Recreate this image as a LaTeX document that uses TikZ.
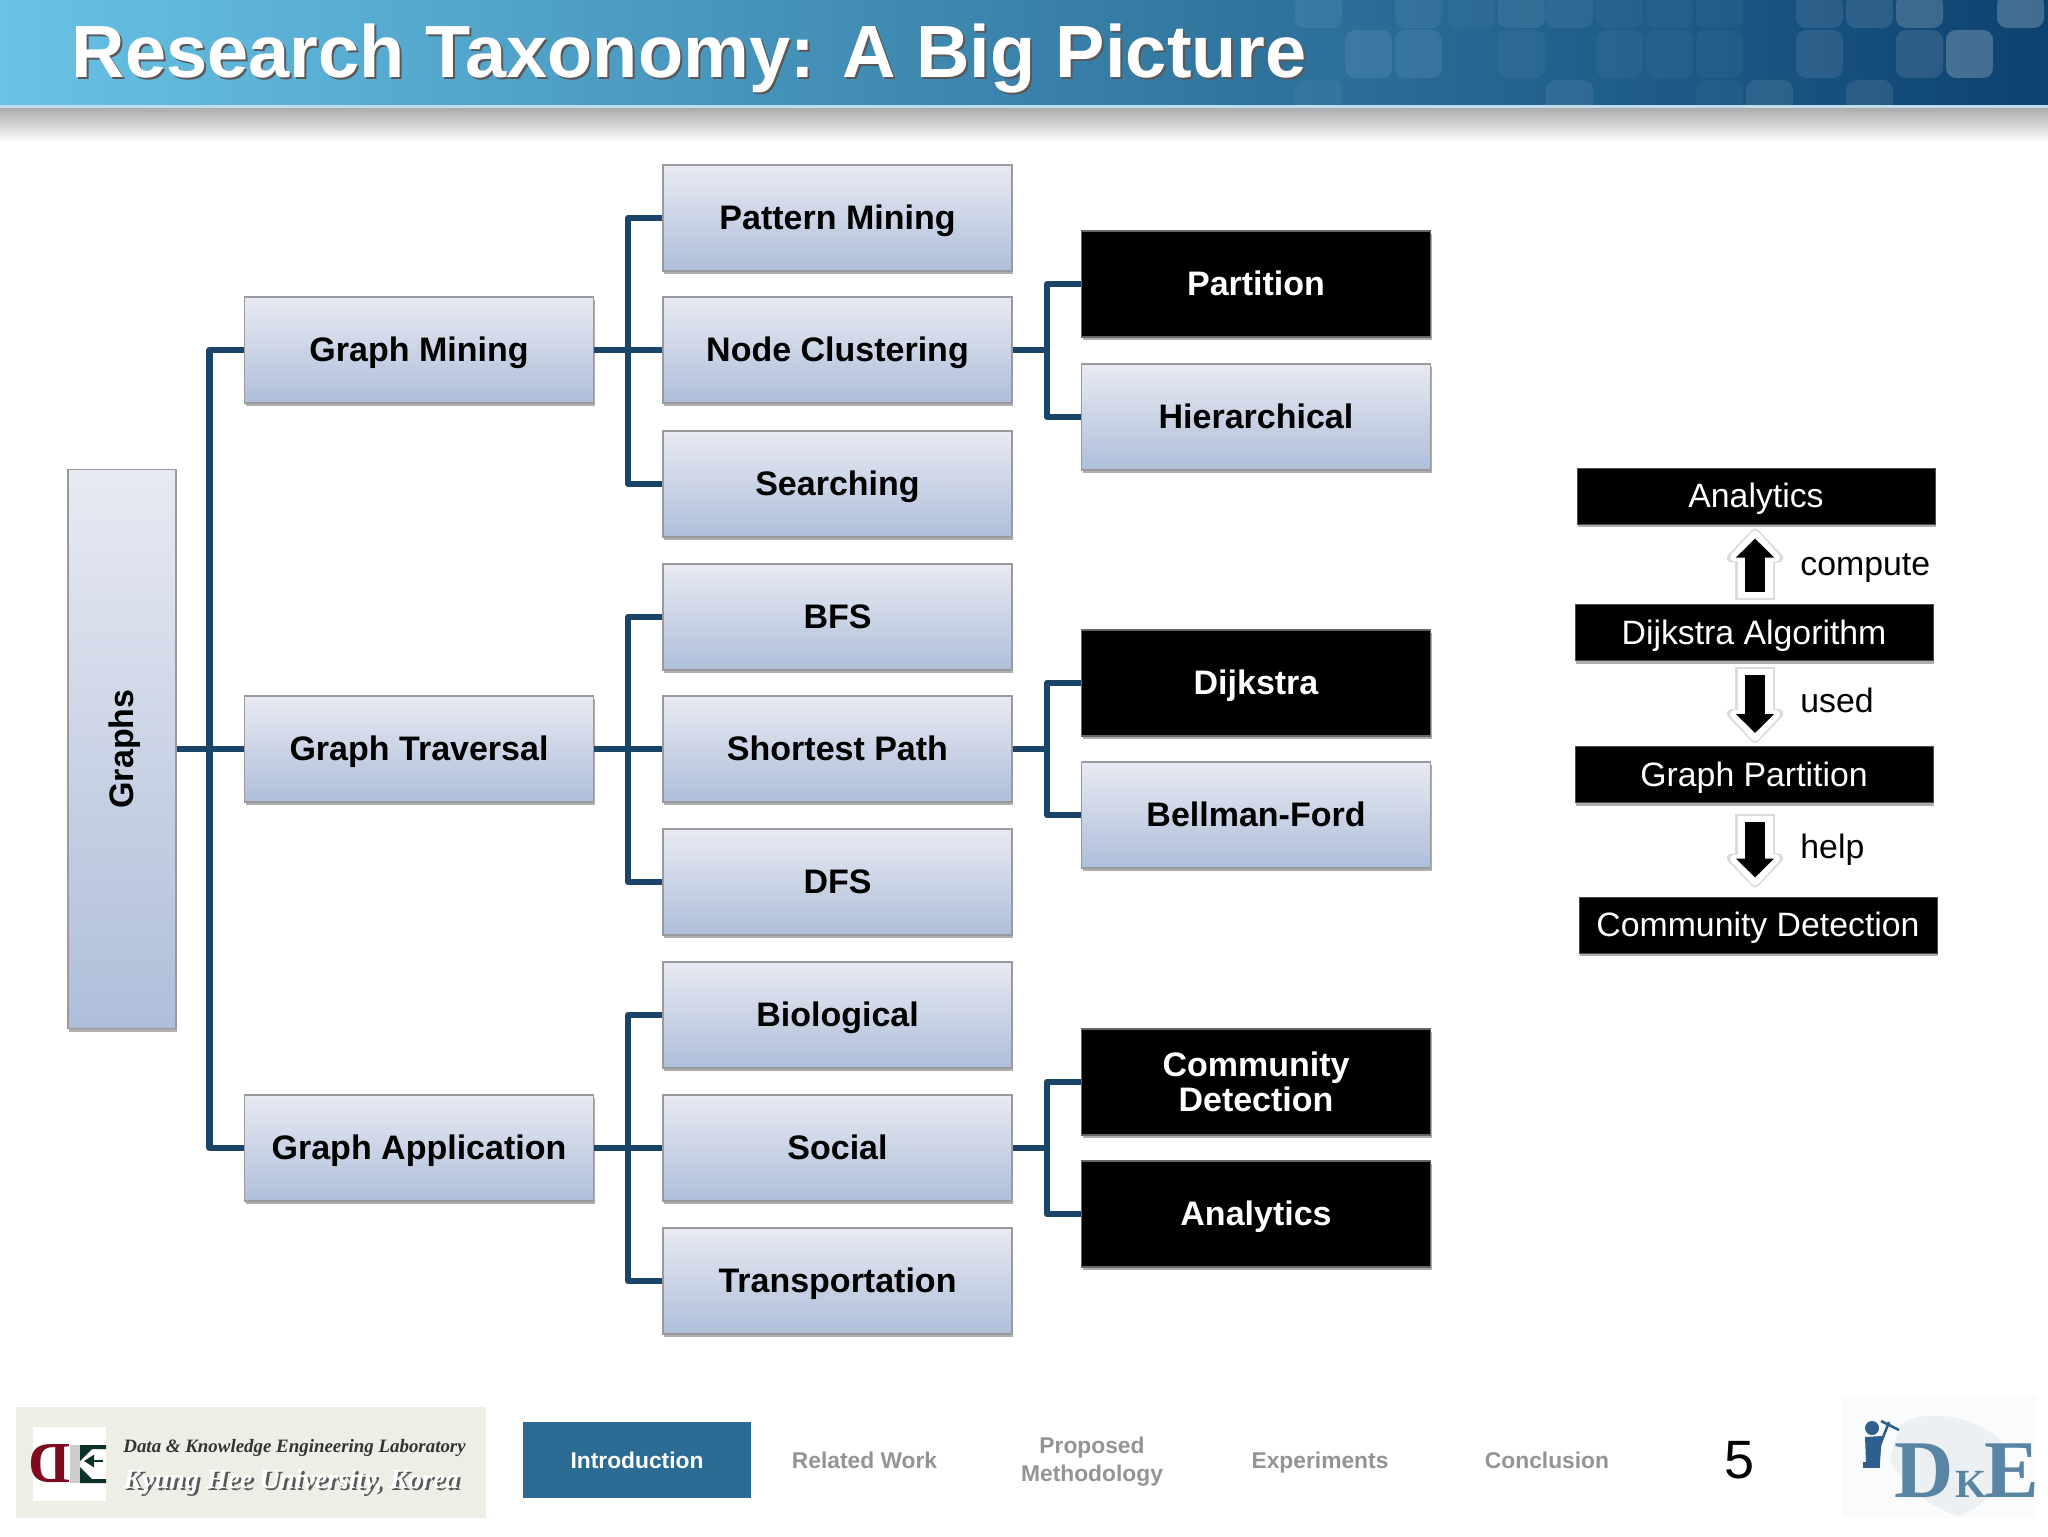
\documentclass[tikz,border=0pt]{standalone}
\usepackage{fontspec}
\setmainfont{Liberation Sans}
\newfontfamily\logoserif{Liberation Serif}
\usetikzlibrary{shadows,arrows.meta,calc}
\definecolor{linkblue}{HTML}{1A4568}
\definecolor{boxtop}{HTML}{E8EAF2}
\definecolor{boxbot}{HTML}{AEBEDA}
\definecolor{boxedge}{HTML}{9A9A9E}
\definecolor{navblue}{HTML}{2C6C94}
\definecolor{navgrey}{HTML}{949494}
\definecolor{dkeblue}{HTML}{5A84A4}
\definecolor{manblue}{HTML}{2E5F8E}
\definecolor{banA}{RGB}{104,195,230}
\definecolor{banB}{RGB}{60,135,176}
\definecolor{banC}{RGB}{12,66,112}
\definecolor{banline}{RGB}{190,222,235}
\definecolor{logobg}{RGB}{238,237,230}
\definecolor{logored}{RGB}{125,10,30}
\definecolor{logogreen}{RGB}{10,50,40}
\definecolor{dkebg}{RGB}{250,251,252}
\definecolor{dkeblob}{RGB}{236,240,242}
\tikzset{
  softshadow/.style={drop shadow={shadow xshift=0.5pt,shadow yshift=-1.6pt,opacity=.45,fill=black!70}},
  oneline/.style={text height=13pt,text depth=1.5pt},
  navline/.style={text height=9pt,text depth=1pt},
  evenline/.style={execute at begin node={\vphantom{Ag}}},
  base/.style={rectangle,inner sep=2pt,align=center,line width=.8pt,softshadow,
    font=\fontsize{17}{17.7}\selectfont\bfseries},
  gbase/.style={base,draw=boxedge,top color=boxtop,bottom color=boxbot,text=black,minimum width=174.5pt,minimum height=53pt},
  kbase/.style={base,draw=black!60,fill=black,text=white,minimum width=174.5pt,minimum height=53pt},
  gbox/.style={gbase,oneline},
  kbox/.style={kbase,oneline},
  pbox/.style={rectangle,fill=black,text=white,draw=black!70,line width=.5pt,softshadow,oneline,minimum width=179pt,minimum height=28pt,inner sep=0pt,
    font=\fontsize{16.9}{20}\selectfont},
  plabel/.style={anchor=west,inner sep=0pt,text=black,evenline,font=\fontsize{16.9}{20}\selectfont},
  link/.style={draw=linkblue,line width=3.1pt,line cap=butt,line join=round},
  navtext/.style={align=center,inner sep=0pt,font=\fontsize{11.4}{14}\selectfont\bfseries,text=navgrey},
  tile/.style={fill=white,rounded corners=5pt},
}
\newcommand{\btile}[4]{\fill[tile,opacity=#4] (#1,#2) rectangle ++(47,#3);}
% block arrow drawn from node to node: from, to, gap at start, gap at end (in pt)
\newcommand{\blockarrow}[4]{%
  \draw[black!14,line width=20pt,-{Triangle[round,width=33pt,length=18pt]},shorten <=#3-4.2pt,shorten >=#4-5pt]
    (#1 -| ax) -- (#2 -| ax);
  \draw[white,line width=17.5pt,-{Triangle[round,width=29pt,length=16.5pt]},shorten <=#3-3.2pt,shorten >=#4-4pt]
    (#1 -| ax) -- (#2 -| ax);
  \draw[black,line width=10pt,-{Triangle[width=18.5pt,length=9.5pt]},shorten <=#3,shorten >=#4]
    (#1 -| ax) -- (#2 -| ax);
}
\begin{document}
\begin{tikzpicture}[x=0.5pt,y=-0.5pt]
\useasboundingbox (0,0) rectangle (2048,1536);
\fill[white] (0,0) rectangle (2048,1536);

% ---- banner
\shade[left color=banA,middle color=banB,right color=banC] (0,0) rectangle (2048,105);
\foreach \cx/\op in {1295/.06,1395/.06,1448/.035,1498/.07,1546/.06,1596/.035,1646/.035,1696/.035,1796/.09,1846/.11,1896/.18,1997/.22}
  {\btile{\cx}{-6}{34}{\op}}
\foreach \cx/\op in {1345/.08,1395/.08,1498/.04,1596/.04,1646/.04,1696/.04,1796/.09,1896/.11,1946/.22}
  {\btile{\cx}{30}{48}{\op}}
\foreach \cx/\op in {1295/.04,1546/.07,1696/.035,1746/.09,1846/.09}
  {\begin{scope}\clip (0,0) rectangle (2048,105);\btile{\cx}{80}{40}{\op}\end{scope}}
\fill[banline] (0,105) rectangle (2048,108.5);
\shade[top color=black!32,bottom color=white] (0,108.5) rectangle (2048,142);
\node[anchor=base west,inner sep=0pt,text=black!65,font=\fontsize{37}{40}\selectfont\bfseries] (titleshadow) at (73.5,80) {Research Taxonomy: A Big Picture};
\node[anchor=base west,inner sep=0pt,text=white,font=\fontsize{37}{40}\selectfont\bfseries] (title) at (71.5,78) {Research Taxonomy: A Big Picture};

% ---- connectors' junction points
\coordinate (rootbus) at (209.5,749);
\coordinate (busa) at (628,350);
\coordinate (busb) at (628,749);
\coordinate (busc) at (628,1148);
\coordinate (busd) at (1047,350);
\coordinate (buse) at (1047,749);
\coordinate (busf) at (1047,1148);

% ---- tree nodes
\node[gbase,minimum width=54pt,minimum height=279.5pt] (graphs) at (122,749) {\hspace*{2.4pt}\rotatebox{90}{Graphs}};
\node[gbox] (mining) at (419,350) {Graph Mining};
\node[gbox] (traversal) at (419,749) {Graph Traversal};
\node[gbox] (application) at (419,1148) {Graph Application};

\node[gbox] (pattern) at (837.5,218) {Pattern Mining};
\node[gbox] (clustering) at (837.5,350) {Node Clustering};
\node[gbox] (searching) at (837.5,484) {Searching};
\node[gbox] (bfs) at (837.5,617) {BFS};
\node[gbox] (shortest) at (837.5,749) {Shortest Path};
\node[gbox] (dfs) at (837.5,882) {DFS};
\node[gbox] (bio) at (837.5,1015) {Biological};
\node[gbox] (social) at (837.5,1148) {Social};
\node[gbox] (transport) at (837.5,1281) {Transportation};

\node[kbox] (partition) at (1256,284) {Partition};
\node[gbox] (hierarchical) at (1256,417) {Hierarchical};
\node[kbox] (dijkstra) at (1256,683) {Dijkstra};
\node[gbox] (bellman) at (1256,815) {Bellman-Ford};
\node[kbase] (community) at (1256,1082) {Community\\Detection};
\node[kbox] (analytics) at (1256,1214) {Analytics};

% ---- connectors
\draw[link] (graphs.east) -- (traversal.west);
\draw[link] (mining.west) -| (rootbus) |- (application.west);
\draw[link] (mining.east) -- (clustering.west);
\draw[link] (pattern.west) -| (busa) |- (searching.west);
\draw[link] (traversal.east) -- (shortest.west);
\draw[link] (bfs.west) -| (busb) |- (dfs.west);
\draw[link] (application.east) -- (social.west);
\draw[link] (bio.west) -| (busc) |- (transport.west);
\draw[link] (clustering.east) -- (busd);
\draw[link] (partition.west) -| (busd) |- (hierarchical.west);
\draw[link] (shortest.east) -- (buse);
\draw[link] (dijkstra.west) -| (buse) |- (bellman.west);
\draw[link] (social.east) -- (busf);
\draw[link] (community.west) -| (busf) |- (analytics.west);

% ---- right panel
\coordinate (ax) at (1755,0);
\node[pbox] (panalytics) at (1756,496) {Analytics};
\node[pbox] (pdijkstra) at (1754,632.5) {Dijkstra Algorithm};
\node[pbox] (ppartition) at (1754,774.5) {Graph Partition};
\node[pbox] (pcommunity) at (1758,925) {Community Detection};
\blockarrow{pdijkstra.north}{panalytics.south}{6pt}{7pt}
\blockarrow{pdijkstra.south}{ppartition.north}{7pt}{6.5pt}
\blockarrow{ppartition.south}{pcommunity.north}{9.5pt}{9.5pt}
\node[plabel] (lcompute) at (1800,567.5) {compute};
\node[plabel] (lused) at (1800,703.5) {used};
\node[plabel] (lhelp) at (1800,849.5) {help};

% ---- footer navigation
\node[rectangle,fill=navblue,text=white,minimum width=114pt,minimum height=38pt,inner sep=0pt,navline,font=\fontsize{11.4}{13.5}\selectfont\bfseries] (navintro) at (637,1460) {Introduction};
\node[navtext,navline] (navrelated) at (864.5,1460) {Related Work};
\node[navtext] (navproposed) at (1092,1462) {Proposed\\Methodology};
\node[navtext,navline] (navexp) at (1320,1460) {Experiments};
\node[navtext,navline] (navconc) at (1547,1460) {Conclusion};
\node[inner sep=0pt,text=black,font=\fontsize{27}{30}\selectfont] (pageno) at (1739,1460) {5};

% ---- left logo
\fill[logobg] (16,1407) rectangle (486,1518);
\fill[white] (33,1427) rectangle (106,1501);
\node[xscale=-1,inner sep=0pt,text=logored,font=\logoserif\fontsize{29}{30}\selectfont\bfseries] (logod) at (50,1464) {D};
\fill[black!20] (70,1445) rectangle (80,1483);
\fill[logogreen] (80,1445) -- (106,1445) -- (106,1449) -- (92,1449) -- (80,1461) -- cycle;
\fill[logogreen] (80,1483) -- (106,1483) -- (106,1479) -- (92,1479) -- (80,1467) -- cycle;
\draw[logogreen,line width=1.2pt,-{Triangle[width=6pt,length=5pt]}] (103,1461) -- (84,1461);
\node[anchor=base west,inner sep=0pt,text=black!80,font=\logoserif\fontsize{9.45}{11}\selectfont\itshape\bfseries] (lab1) at (123,1452) {Data \& Knowledge Engineering Laboratory};
\node[anchor=base west,inner sep=0pt,text=black!65,font=\logoserif\fontsize{13.9}{15}\selectfont\itshape\bfseries] (lab2s) at (125.5,1490.5) {Kyung Hee University, Korea};
\node[anchor=base west,inner sep=0pt,text=white,font=\logoserif\fontsize{13.9}{15}\selectfont\itshape\bfseries] (lab2) at (123,1488) {Kyung Hee University, Korea};

% ---- right logo
\fill[dkebg] (1842,1396) rectangle (2036,1518);
\fill[dkeblob] (1900,1425) .. controls (1930,1405) and (1980,1420) .. (2000,1440) .. controls (2020,1480) and (1990,1500) .. (1960,1516) .. controls (1930,1510) and (1900,1480) .. (1890,1460) -- cycle;
\node[anchor=base,inner sep=0pt,text=dkeblue,font=\logoserif\fontsize{41}{42}\selectfont\bfseries] (logo-d) at (1924,1497) {D};
\node[anchor=base,inner sep=0pt,text=dkeblue,font=\logoserif\fontsize{20}{22}\selectfont\bfseries] (logo-k) at (1971,1497) {K};
\node[anchor=base,inner sep=0pt,text=dkeblue,font=\logoserif\fontsize{41}{42}\selectfont\bfseries] (logo-e) at (2012,1497) {E};
\fill[manblue] (1872,1428) circle (7);
\fill[manblue] (1865,1437) -- (1882,1436) -- (1880,1462) -- (1866,1462) -- cycle;
\fill[manblue] (1863,1462) rectangle (1880,1468);
\draw[manblue,line width=1.3pt] (1880,1445) -- (1889,1422);
\draw[manblue,line width=1.3pt] (1881,1421) -- (1899,1430);
\end{tikzpicture}
\end{document}
